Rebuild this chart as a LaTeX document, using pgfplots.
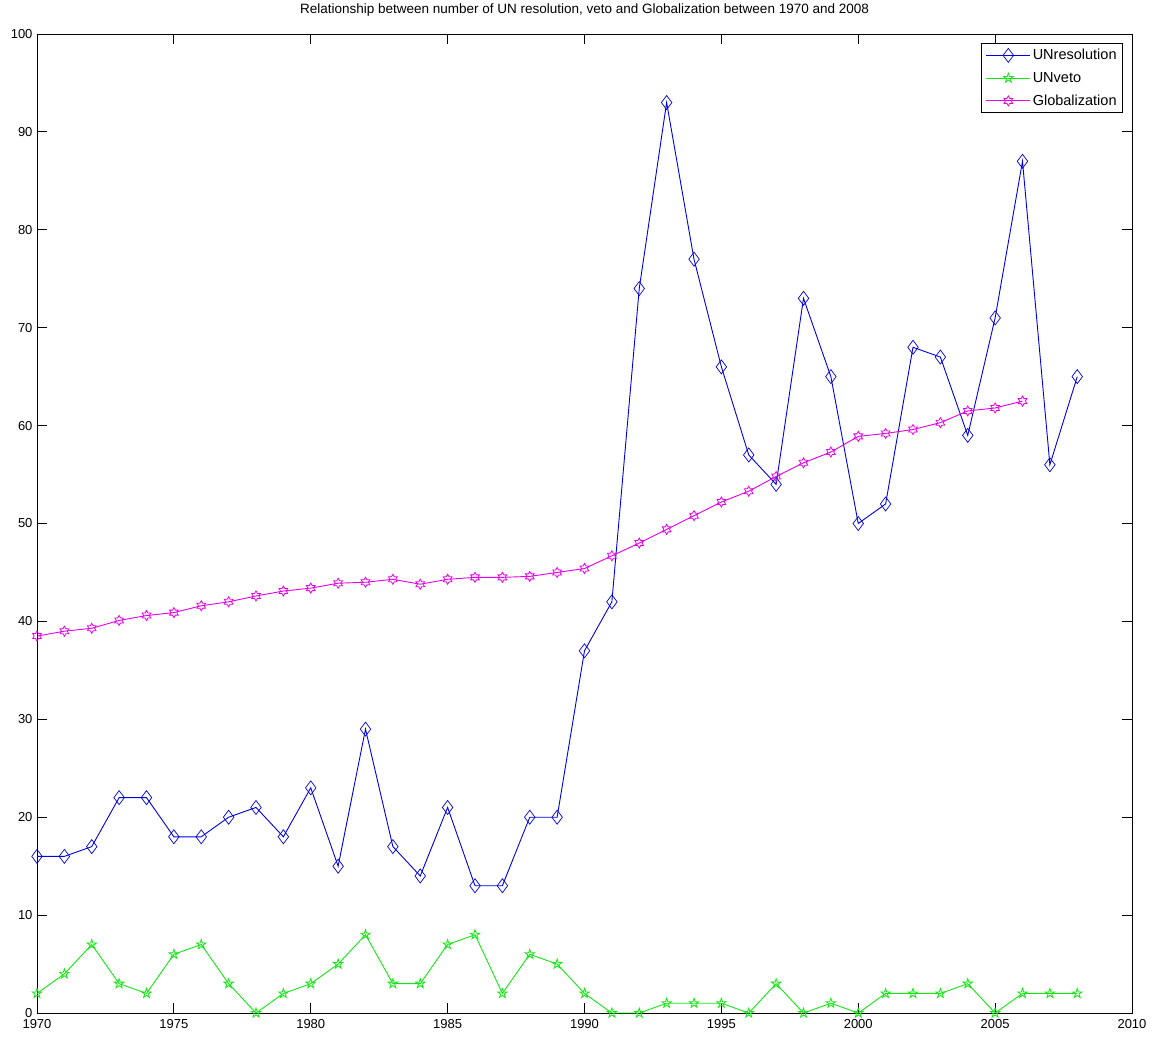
\documentclass[border=0pt]{standalone}
\usepackage{fontspec}
\setmainfont{Liberation Sans}
\usepackage{pgfplots}
\pgfplotsset{compat=1.18}

% MATLAB style pentagram / hexagram markers
\pgfdeclareplotmark{pentagram}{%
  \pgfpathmoveto{\pgfpointpolar{90}{\pgfplotmarksize}}%
  \pgfpathlineto{\pgfpointpolar{126}{0.382\pgfplotmarksize}}%
  \pgfpathlineto{\pgfpointpolar{162}{\pgfplotmarksize}}%
  \pgfpathlineto{\pgfpointpolar{198}{0.382\pgfplotmarksize}}%
  \pgfpathlineto{\pgfpointpolar{234}{\pgfplotmarksize}}%
  \pgfpathlineto{\pgfpointpolar{270}{0.382\pgfplotmarksize}}%
  \pgfpathlineto{\pgfpointpolar{306}{\pgfplotmarksize}}%
  \pgfpathlineto{\pgfpointpolar{342}{0.382\pgfplotmarksize}}%
  \pgfpathlineto{\pgfpointpolar{18}{\pgfplotmarksize}}%
  \pgfpathlineto{\pgfpointpolar{54}{0.382\pgfplotmarksize}}%
  \pgfpathclose\pgfusepathqstroke}
\pgfdeclareplotmark{hexagram}{%
  \pgfpathmoveto{\pgfpointpolar{90}{\pgfplotmarksize}}%
  \pgfpathlineto{\pgfpointpolar{120}{0.577\pgfplotmarksize}}%
  \pgfpathlineto{\pgfpointpolar{150}{\pgfplotmarksize}}%
  \pgfpathlineto{\pgfpointpolar{180}{0.577\pgfplotmarksize}}%
  \pgfpathlineto{\pgfpointpolar{210}{\pgfplotmarksize}}%
  \pgfpathlineto{\pgfpointpolar{240}{0.577\pgfplotmarksize}}%
  \pgfpathlineto{\pgfpointpolar{270}{\pgfplotmarksize}}%
  \pgfpathlineto{\pgfpointpolar{300}{0.577\pgfplotmarksize}}%
  \pgfpathlineto{\pgfpointpolar{330}{\pgfplotmarksize}}%
  \pgfpathlineto{\pgfpointpolar{0}{0.577\pgfplotmarksize}}%
  \pgfpathlineto{\pgfpointpolar{30}{\pgfplotmarksize}}%
  \pgfpathlineto{\pgfpointpolar{60}{0.577\pgfplotmarksize}}%
  \pgfpathclose\pgfusepathqstroke}

\pgfplotstableread{
year res veto
1970 16 2
1971 16 4
1972 17 7
1973 22 3
1974 22 2
1975 18 6
1976 18 7
1977 20 3
1978 21 0
1979 18 2
1980 23 3
1981 15 5
1982 29 8
1983 17 3
1984 14 3
1985 21 7
1986 13 8
1987 13 2
1988 20 6
1989 20 5
1990 37 2
1991 42 0
1992 74 0
1993 93 1
1994 77 1
1995 66 1
1996 57 0
1997 54 3
1998 73 0
1999 65 1
2000 50 0
2001 52 2
2002 68 2
2003 67 2
2004 59 3
2005 71 0
2006 87 2
2007 56 2
2008 65 2
}\unres

\pgfplotstableread{
year glob
1970 38.5
1971 39.0
1972 39.3
1973 40.1
1974 40.6
1975 40.9
1976 41.6
1977 42.0
1978 42.6
1979 43.1
1980 43.4
1981 43.9
1982 44.0
1983 44.3
1984 43.8
1985 44.3
1986 44.5
1987 44.5
1988 44.6
1989 45.0
1990 45.4
1991 46.7
1992 48.0
1993 49.4
1994 50.8
1995 52.2
1996 53.3
1997 54.8
1998 56.2
1999 57.3
2000 58.9
2001 59.2
2002 59.6
2003 60.3
2004 61.5
2005 61.8
2006 62.5
}\globtab

\begin{document}
\begin{tikzpicture}
\begin{axis}[
    scale only axis,
    width=1095pt, height=979pt,
    xmin=1970, xmax=2010, ymin=0, ymax=100,
    xtick distance=5, ytick distance=10,
    tick align=inside,
    major tick length=10pt,
    tick style={black, line width=0.8pt},
    axis line style={line width=0.9pt},
    /pgf/number format/1000 sep={},
    /pgf/number format/assume math mode=true,
    tick label style={font=\fontsize{13}{15}\selectfont},
    xticklabel style={yshift=-3pt},
    yticklabel style={xshift=-1pt},
    title={Relationship between number of UN resolution, veto and Globalization between 1970 and 2008},
    title style={font=\fontsize{13.5}{15}\selectfont, at={(0.5,1)}, anchor=south, yshift=8pt},
    legend style={at={(1,1)}, anchor=north east, xshift=-9pt, yshift=-9pt,
      draw=black, line width=0.8pt, font=\fontsize{14.5}{16}\selectfont,
      row sep=7pt, inner sep=4pt, cells={anchor=west}},
    legend image code/.code={%
      \draw[mark repeat=2,mark phase=2,#1] plot coordinates {(0pt,0pt) (22pt,0pt) (44pt,0pt)};},
  ]
  \addplot[color={rgb,255:red,0;green,0;blue,220}, line width=0.9pt, mark=diamond, mark size=7pt,
    mark options={line width=0.7pt}] table[x=year, y=res] {\unres};
  \addlegendentry{UNresolution}
  \addplot[color={rgb,255:red,20;green,230;blue,20}, line width=0.9pt, mark=pentagram, mark size=5pt,
    mark options={line width=0.8pt}] table[x=year, y=veto] {\unres};
  \addlegendentry{UNveto}
  \addplot[color={rgb,255:red,230;green,0;blue,230}, line width=0.9pt, mark=hexagram, mark size=5pt,
    mark options={line width=0.8pt}] table[x=year, y=glob] {\globtab};
  \addlegendentry{Globalization}
\end{axis}
\useasboundingbox ([shift={(-37pt,-25pt)}]current axis.south west)
  rectangle ([shift={(28pt,34pt)}]current axis.north east);
\end{tikzpicture}
\end{document}
